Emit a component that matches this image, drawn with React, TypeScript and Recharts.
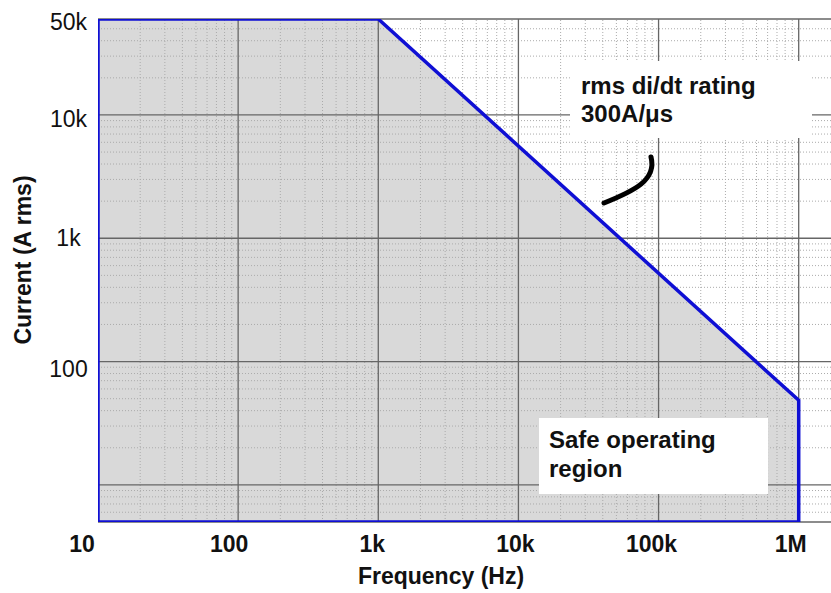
import React from 'react'
import { ComposedChart, Area, Line, XAxis, YAxis, ReferenceLine } from 'recharts'

// rating curve (flat top, then the di/dt slope)
const freqHz = [10, 1000, 1000000]
const ratingA = [60000, 60000, 48.5]

// closed outline of the safe operating region
const outlineHz = [10, 10, 1000, 1000000, 1000000, 10]
const outlineA = [5, 60000, 60000, 48.5, 5, 5]

const xTicks = [10, 100, 1000, 10000, 100000, 1000000]
const xTickLabels = ['10', '100', '1k', '10k', '100k', '1M']
const yTicks = [50000, 10000, 1000, 100]
const yTickLabels = ['50k', '10k', '1k', '100']

const xDecades = [10, 100, 1000, 10000, 100000, 1000000]
const yDecades = [1, 10, 100, 1000, 10000]
const mantissas = [2, 3, 4, 5, 6, 7, 8, 9]
const xMajor = [100, 1000, 10000, 100000, 1000000]
const yMajor = [10, 100, 1000, 10000]

const X_MAX = 1700000
const Y_MIN = 5
const Y_MAX = 60000

const xMinor = xDecades.flatMap(d => mantissas.map(m => m * d)).filter(v => v < X_MAX)
const yMinor = yDecades.flatMap(d => mantissas.map(m => m * d)).filter(v => v > Y_MIN && v < Y_MAX)

const areaData = freqHz.map((f, i) => ({ f, i: ratingA[i] }))
const outlineData = outlineHz.map((f, i) => ({ f, i: outlineA[i] }))

const FONT = '"Liberation Sans", Arial, sans-serif'
const BLUE = '#0f0fd4'
const MAJOR = '#666'
const MINOR = '#ababab'

// label nudges to match the hand-placed labels of the original
const xNudge: Record<string, number> = { '10': -16, '100': -9, '1k': -6, '10k': -3, '100k': -7, '1M': -8 }
const yNudge: Record<string, number> = { '50k': 1, '10k': 12, '1k': 8, '100': 15 }

const XTick = (props: any) => {
  const { x, y, payload } = props
  const label = xTickLabels[xTicks.indexOf(payload.value)]
  return (
    <text x={x + (xNudge[label] ?? 0)} y={y + 30} textAnchor="middle" fontFamily={FONT} fontSize={23} fontWeight="bold" fill="#111">
      {label}
    </text>
  )
}

const YTick = (props: any) => {
  const { x, y, payload } = props
  const label = yTickLabels[yTicks.indexOf(payload.value)]
  return (
    <text x={x - 29.5} y={y + (yNudge[label] ?? 0)} textAnchor="middle" fontFamily={FONT} fontSize={23} fill="#111">
      {label}
    </text>
  )
}

export default function App() {
  return (
    <div style={{ position: 'absolute', left: 0, top: 0, width: 831, height: 593, background: '#fff' }}>
      <ComposedChart width={831} height={593} margin={{ top: 19, right: 0, bottom: 0, left: 0 }}>
        <XAxis
          dataKey="f"
          type="number"
          scale="log"
          domain={[10, X_MAX]}
          ticks={xTicks}
          allowDataOverflow
          height={71}
          axisLine={false}
          tickLine={false}
          tickSize={0}
          tickMargin={0}
          tick={<XTick />}
          interval={0}
        />
        <YAxis
          dataKey="i"
          type="number"
          scale="log"
          domain={[Y_MIN, Y_MAX]}
          ticks={yTicks}
          allowDataOverflow
          width={98}
          axisLine={false}
          tickLine={false}
          tickSize={0}
          tickMargin={0}
          tick={<YTick />}
          interval={0}
        />
        <Area data={areaData} dataKey="i" type="linear" fill="#d9d9d9" fillOpacity={1} stroke="none" isAnimationActive={false} />
        {xMinor.map(v => (
          <ReferenceLine key={'xm' + v} x={v} stroke={MINOR} strokeWidth={1} strokeDasharray="1 2" />
        ))}
        {yMinor.map(v => (
          <ReferenceLine key={'ym' + v} y={v} stroke={MINOR} strokeWidth={1} strokeDasharray="1 2" />
        ))}
        {xMajor.map(v => (
          <ReferenceLine key={'xM' + v} x={v} stroke={MAJOR} strokeWidth={1.3} />
        ))}
        {yMajor.map(v => (
          <ReferenceLine key={'yM' + v} y={v} stroke={MAJOR} strokeWidth={1.3} />
        ))}
        <ReferenceLine y={Y_MAX} stroke={MAJOR} strokeWidth={1.5} />
        <ReferenceLine y={Y_MIN} stroke={MAJOR} strokeWidth={1.5} />
        <Line data={outlineData} dataKey="i" type="linear" stroke={BLUE} strokeWidth={3.5} dot={false} activeDot={false} isAnimationActive={false} />
      </ComposedChart>
      <svg width={831} height={593} style={{ position: 'absolute', left: 0, top: 0, pointerEvents: 'none' }}>
        <rect x={570} y={61} width={242} height={77} fill="#fff" />
        <text fontFamily={FONT} fontSize={24} fontWeight="bold" fill="#111">
          <tspan x={581} y={94}>rms di/dt rating</tspan>
          <tspan x={581} y={122}>300A/μs</tspan>
        </text>
        <path d="M604,203 C634,191 657,180 651,157" fill="none" stroke="#000" strokeWidth={5} strokeLinecap="round" />
        <rect x={539} y={418} width={229} height={76} fill="#fff" />
        <text fontFamily={FONT} fontSize={24} fontWeight="bold" fill="#111">
          <tspan x={549} y={448}>Safe operating</tspan>
          <tspan x={549} y={477}>region</tspan>
        </text>
        <text x={441} y={584} textAnchor="middle" fontFamily={FONT} fontSize={23} fontWeight="bold" fill="#111">
          Frequency (Hz)
        </text>
        <text transform="translate(31,260) rotate(-90)" textAnchor="middle" fontFamily={FONT} fontSize={23} fontWeight="bold" fill="#111">
          Current (A rms)
        </text>
      </svg>
    </div>
  )
}
